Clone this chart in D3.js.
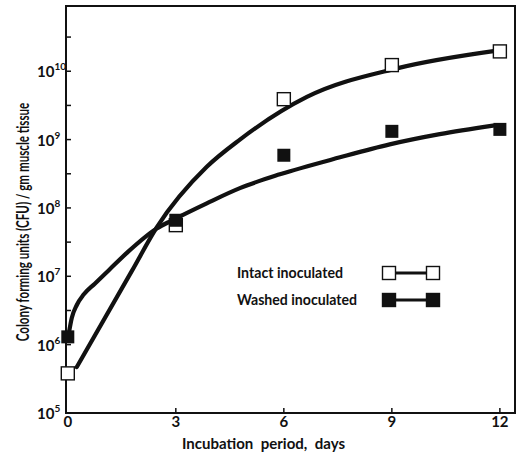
<!DOCTYPE html>
<html>
<head>
<meta charset="utf-8">
<script src="https://cdn.jsdelivr.net/npm/d3@7"></script>
<style>
  body { margin: 0; background: #fff; }
  text { font-family: Lato, "Open Sans", sans-serif; fill: #111; }
</style>
</head>
<body>
<div id="chart"></div>
<script>
const W = 522, H = 454;
const ink = "#111";

// measured points (day, CFU / gm)
const days = [0, 3, 6, 9, 12];
const intact = [3.8e5, 5.6e7, 3.9e9, 1.23e10, 1.95e10];
const washed = [1.3e6, 6.6e7, 5.9e8, 1.32e9, 1.41e9];

// hand drawn fitted curves
const intactCurveDays = [0.25, 1.78, 2.47, 3.86, 4.78, 6.64, 9.14, 11.92];
const intactCurveCfu = [4.7e5, 1.2e7, 5.2e7, 4.0e8, 1.0e9, 4.2e9, 1.1e10, 2.0e10];
const washedCurveDays = [0.03, 0.11, 0.25, 0.44, 0.75, 1.14, 1.64, 2.47, 2.9, 3.86, 4.78, 5.89, 7.56, 8.94, 10.33, 11.81];
const washedCurveCfu = [1.48e6, 2.45e6, 3.8e6, 5.4e6, 7.8e6, 1.23e7, 2.2e7, 5.0e7, 6.6e7, 1.17e8, 1.95e8, 3.1e8, 5.5e8, 8.5e8, 1.2e9, 1.6e9];

const xTicks = [0, 3, 6, 9, 12];
const yExponents = [5, 6, 7, 8, 9, 10];
const yMinor = [3.16e5, 3.16e6, 3.16e7, 3.16e8, 3.16e9, 3.16e10];

const legendLabels = ["Intact inoculated", "Washed inoculated"];

const x = d3.scaleLinear().domain([-0.05, 12.42]).range([66, 515]);
const y = d3.scaleLog().domain([1e5, 9e10]).range([413, 6]);

const svg = d3.select("#chart").append("svg")
  .attr("width", W).attr("height", H);

// frame
svg.append("rect")
  .attr("x", x.range()[0]).attr("y", y.range()[1])
  .attr("width", x.range()[1] - x.range()[0])
  .attr("height", y.range()[0] - y.range()[1])
  .attr("fill", "none").attr("stroke", ink).attr("stroke-width", 2);

// x ticks (inward) and labels
svg.append("g").selectAll("line").data(xTicks.slice(1)).join("line")
  .attr("x1", d => x(d)).attr("x2", d => x(d))
  .attr("y1", y.range()[0]).attr("y2", y.range()[0] - 5)
  .attr("stroke", ink).attr("stroke-width", 1.5);

svg.append("g").selectAll("text").data(xTicks).join("text")
  .attr("x", d => x(d)).attr("y", 427)
  .attr("text-anchor", "middle")
  .attr("font-size", 15).attr("font-weight", 700)
  .text(d => d);

svg.append("text")
  .attr("x", 182).attr("y", 449)
  .attr("font-size", 16).attr("font-weight", 700)
  .attr("textLength", 163).attr("lengthAdjust", "spacingAndGlyphs")
  .attr("word-spacing", 4)
  .text("Incubation period, days");

// y ticks (inward)
svg.append("g").selectAll("line").data(yExponents.map(e => Math.pow(10, e)).concat(yMinor)).join("line")
  .attr("x1", x.range()[0]).attr("x2", x.range()[0] + 5)
  .attr("y1", d => y(d)).attr("y2", d => y(d))
  .attr("stroke", ink).attr("stroke-width", 1.5);

const yl = svg.append("g").selectAll("text").data(yExponents).join("text")
  .attr("x", 37).attr("y", d => y(Math.pow(10, d)) + 6)
  .attr("font-size", 15).attr("font-weight", 700);
yl.append("tspan").text("10");
yl.append("tspan").attr("font-size", 10).attr("dy", -7).text(d => d);

// y title: condensed face, squeezed to the span it has in the figure
const yTitle = svg.append("text")
  .attr("text-anchor", "middle")
  .attr("font-size", 17).attr("font-weight", 700)
  .text("Colony forming units (CFU) / gm muscle tissue");
const squeeze = Math.min(1, 239 / yTitle.node().getComputedTextLength());
yTitle.attr("transform", `translate(29,222) rotate(-90) scale(${squeeze},1)`);

// curves
const line = d3.line()
  .x(d => x(d[0])).y(d => y(d[1]))
  .curve(d3.curveMonotoneX);

svg.append("path")
  .datum(d3.zip(intactCurveDays, intactCurveCfu))
  .attr("d", line).attr("fill", "none")
  .attr("stroke", ink).attr("stroke-width", 4.2).attr("stroke-linecap", "round");

svg.append("path")
  .datum(d3.zip(washedCurveDays, washedCurveCfu))
  .attr("d", line).attr("fill", "none")
  .attr("stroke", ink).attr("stroke-width", 4.2).attr("stroke-linecap", "round");

// markers
const sq = 13;
svg.append("g").selectAll("rect").data(d3.zip(days, intact)).join("rect")
  .attr("x", d => x(d[0]) - sq / 2).attr("y", d => y(d[1]) - sq / 2)
  .attr("width", sq).attr("height", sq)
  .attr("fill", "#fff").attr("stroke", ink).attr("stroke-width", 1.4);

svg.append("g").selectAll("rect").data(d3.zip(days, washed)).join("rect")
  .attr("x", d => x(d[0]) - sq / 2).attr("y", d => y(d[1]) - sq / 2)
  .attr("width", sq).attr("height", sq)
  .attr("fill", ink);

// legend
const legendWidths = [106, 120];
const lg = svg.append("g");
legendLabels.forEach((lab, i) => {
  const ly = 273 + i * 27;
  lg.append("text").attr("x", 237).attr("y", ly + 5)
    .attr("font-size", 15).attr("font-weight", 700)
    .attr("textLength", legendWidths[i]).attr("lengthAdjust", "spacingAndGlyphs")
    .text(lab);
  lg.append("line").attr("x1", 389).attr("x2", 433)
    .attr("y1", ly).attr("y2", ly)
    .attr("stroke", ink).attr("stroke-width", 3);
  [389, 433].forEach(cx => {
    lg.append("rect")
      .attr("x", cx - sq / 2).attr("y", ly - sq / 2)
      .attr("width", sq).attr("height", sq)
      .attr("fill", i === 0 ? "#fff" : ink)
      .attr("stroke", ink).attr("stroke-width", 1.4);
  });
});
</script>
</body>
</html>
